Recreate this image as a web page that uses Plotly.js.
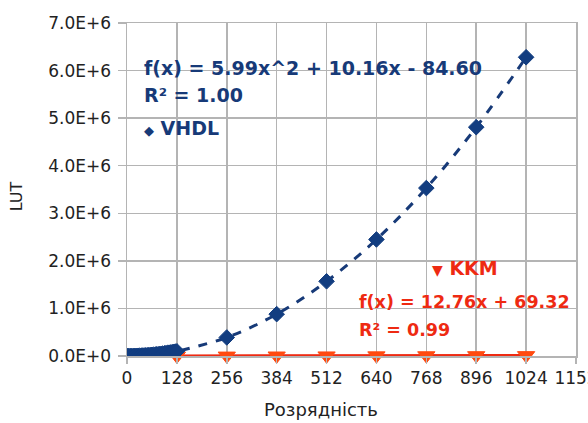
<!DOCTYPE html>
<html>
<head>
<meta charset="utf-8">
<script src="https://cdn.plot.ly/plotly-3.0.1.min.js"></script>
<style>html,body{margin:0;padding:0;background:#fff;}#chart{width:588px;height:423px;}</style>
</head>
<body>
<div id="chart"></div>
<script>
// VHDL (LUT) vs bit width
var vhdlX = [1, 4, 8, 12, 16, 20, 24, 28, 32, 36, 40, 44, 48, 52, 56, 60, 64, 68, 72, 76, 80, 84, 88, 92, 96, 100, 104, 108, 112, 116, 120, 124, 128, 256, 384, 512, 640, 768, 896, 1024];
var vhdlY = [0, 100, 400, 900, 1500, 2400, 3500, 4700, 6100, 7800, 9600, 11600, 13800, 16200, 18800, 21600, 24600, 27700, 31000, 34600, 38300, 42300, 46400, 50700, 55200, 60000, 64800, 70000, 75000, 80700, 86000, 92000, 98000, 390000, 880000, 1570000, 2450000, 3530000, 4810000, 6280000];
// KKM
var kkmX = [128, 256, 384, 512, 640, 768, 896, 1024];
var kkmY = [1700, 3300, 5000, 6600, 8200, 9900, 11500, 13100];

var xTicks = [0, 128, 256, 384, 512, 640, 768, 896, 1024, 1152];
var yTickVals = [0, 1e6, 2e6, 3e6, 4e6, 5e6, 6e6, 7e6];
var yTickText = ["0.0E+0", "1.0E+6", "2.0E+6", "3.0E+6", "4.0E+6", "5.0E+6", "6.0E+6", "7.0E+6"];

var xTitle = "Розрядність";
var yTitle = "LUT";
var vhdlEq = "f(x) = 5.99x^2 + 10.16x - 84.60";
var vhdlR2 = "R² = 1.00";
var kkmEq = "f(x) = 12.76x + 69.32";
var kkmR2 = "R² = 0.99";

var blue = "#123d80";
var navy = "#173a78";
var red = "#ee2a12";

var traces = [
  {
    x: kkmX, y: kkmY, type: "scatter", mode: "lines+markers", name: "KKM",
    line: {color: red, width: 3},
    marker: {symbol: "triangle-down", size: 15, color: "#ff4a10", line: {color: "#ff4a10", width: 1}},
    cliponaxis: false
  },
  {
    x: vhdlX, y: vhdlY, type: "scatter", mode: "lines+markers", name: "VHDL",
    line: {color: navy, width: 3, dash: "dash", shape: "spline"},
    marker: {symbol: "diamond", size: 12, color: blue, line: {color: blue, width: 1}},
    cliponaxis: true
  }
];

var tfont = {family: "DejaVu Sans", size: 17, color: "#222"};
var bold = function(c, s){ return {family: "DejaVu Sans", size: s || 19, color: c, weight: "bold"}; };

var layout = {
  width: 588, height: 423,
  margin: {l: 127, r: 12, t: 23, b: 67},
  paper_bgcolor: "#fff", plot_bgcolor: "#fff",
  showlegend: false,
  xaxis: {
    range: [0, 1152], tickvals: xTicks, ticktext: xTicks.map(String),
    showgrid: true, gridcolor: "#b4b4b4", gridwidth: 1.5,
    showline: true, linecolor: "#b4b4b4", linewidth: 1.5, mirror: true,
    ticks: "outside", ticklen: 6, tickcolor: "#b4b4b4", tickwidth: 1.5,
    zeroline: false, tickfont: tfont, ticklabeloverflow: "allow"
  },
  yaxis: {
    range: [0, 7e6], tickvals: yTickVals, ticktext: yTickText,
    showgrid: true, gridcolor: "#b4b4b4", gridwidth: 1.5,
    showline: true, linecolor: "#b4b4b4", linewidth: 1.5, mirror: true,
    ticks: "outside", ticklen: 8, tickcolor: "#b4b4b4", tickwidth: 1.5,
    ticklabelstandoff: 3,
    zeroline: false, tickfont: tfont
  },
  annotations: [
    {xref: "paper", yref: "paper", x: 0.4325, y: -0.16, xanchor: "center", yanchor: "middle", text: xTitle, showarrow: false, font: {family: "DejaVu Sans", size: 18, color: "#222"}},
    {xref: "paper", yref: "paper", x: -0.247, y: 0.48, xanchor: "center", yanchor: "middle", textangle: -90, text: yTitle, showarrow: false, font: {family: "DejaVu Sans", size: 16, color: "#222"}},
    {xref: "paper", yref: "paper", x: 0.033, y: 0.865, xanchor: "left", yanchor: "middle", text: vhdlEq, showarrow: false, font: bold(navy)},
    {xref: "paper", yref: "paper", x: 0.033, y: 0.784, xanchor: "left", yanchor: "middle", text: vhdlR2, showarrow: false, font: bold(navy)},
    {xref: "paper", yref: "paper", x: 0.033, y: 0.685, xanchor: "left", yanchor: "middle", text: "<span style='font-size:13px'>◆</span> VHDL", showarrow: false, font: bold(navy)},
    {xref: "paper", yref: "paper", x: 0.675, y: 0.264, xanchor: "left", yanchor: "middle", text: "<span style='font-size:14px'>▼</span> KKM", showarrow: false, font: bold(red)},
    {xref: "paper", yref: "paper", x: 0.512, y: 0.162, xanchor: "left", yanchor: "middle", text: kkmEq, showarrow: false, font: bold(red, 17.5)},
    {xref: "paper", yref: "paper", x: 0.512, y: 0.078, xanchor: "left", yanchor: "middle", text: kkmR2, showarrow: false, font: bold(red, 17.5)}
  ]
};

Plotly.newPlot("chart", traces, layout, {displayModeBar: false, staticPlot: true});
</script>
</body>
</html>
